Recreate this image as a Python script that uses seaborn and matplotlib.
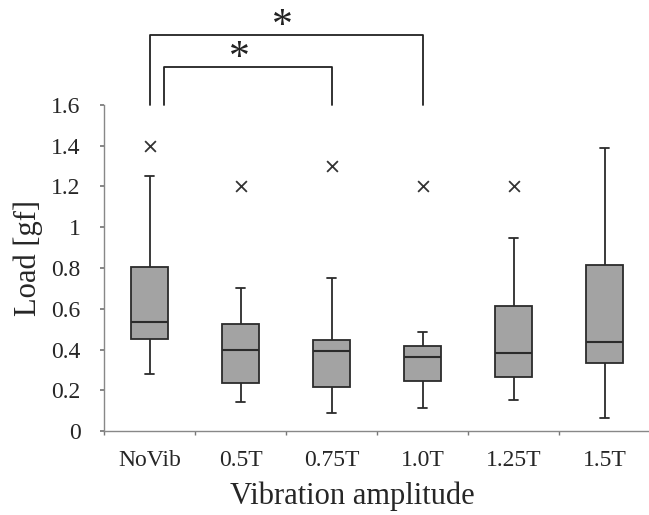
import numpy as np
import pandas as pd
import matplotlib
matplotlib.use("Agg")
import matplotlib.pyplot as plt
import seaborn as sns

categories = ["NoVib", "0.5T", "0.75T", "1.0T", "1.25T", "1.5T"]
whisker_low = [0.28, 0.14, 0.087, 0.111, 0.152, 0.062]
q1_vals = [0.451, 0.237, 0.218, 0.245, 0.267, 0.335]
medians = [0.533, 0.397, 0.393, 0.365, 0.384, 0.437]
q3_vals = [0.803, 0.524, 0.447, 0.417, 0.613, 0.815]
whisker_high = [1.25, 0.70, 0.749, 0.484, 0.949, 1.39]
outlier_cats = ["NoVib", "0.5T", "0.75T", "1.0T", "1.25T"]
outlier_vals = [1.40, 1.20, 1.30, 1.20, 1.20]
y_ticks = [0, 0.2, 0.4, 0.6, 0.8, 1.0, 1.2, 1.4, 1.6]
y_tick_labels = ["0", "0.2", "0.4", "0.6", "0.8", "1", "1.2", "1.4", "1.6"]

rows = []
for i, c in enumerate(categories):
    for v in (whisker_low[i], q1_vals[i], medians[i], q3_vals[i], whisker_high[i]):
        rows.append({"cat": c, "load": v})
df = pd.DataFrame(rows)
out_df = pd.DataFrame({"cat": outlier_cats, "load": outlier_vals})

sns.set_theme(style="white")
plt.rcParams["font.family"] = ["Liberation Serif", "DejaVu Serif"]

fig = plt.figure(figsize=(6.49, 5.15), dpi=100)
ax = fig.add_axes([104 / 649, 84 / 515, 546 / 649, 326 / 515])

line_c = "#2b2b2b"
sns.boxplot(data=df, x="cat", y="load", order=categories, ax=ax,
            whis=np.inf, width=0.4, color="#a3a3a3", linecolor=line_c,
            linewidth=1.3, showfliers=False,
            medianprops=dict(color=line_c, linewidth=1.5),
            capwidths=0.09)
sns.scatterplot(data=out_df, x="cat", y="load", ax=ax, marker="x",
                s=60, color="#333333", linewidth=1.3, zorder=5)

ax.set_xlim(-0.5, 5.5)
ax.set_ylim(0, 1.6)
ax.set_yticks(y_ticks)
ax.set_yticklabels(y_tick_labels, fontsize=17)
ax.set_xticks(range(len(categories)))
ax.set_xticklabels(categories, fontsize=17)
ax.set_xticks(np.arange(-0.5, 6.0, 1.0), minor=True)
ax.tick_params(axis="x", which="major", length=0, pad=14)
ax.tick_params(axis="x", which="minor", length=3, color="#777777", direction="out")
ax.tick_params(axis="y", which="major", length=3, color="#777777", direction="out", pad=14)
ax.yaxis.set_ticks_position("left")
ax.xaxis.set_ticks_position("bottom")

for s in ["top", "right"]:
    ax.spines[s].set_visible(False)
for s in ["left", "bottom"]:
    ax.spines[s].set_color("#888888")
    ax.spines[s].set_linewidth(1.0)

ax.set_xlabel("Vibration amplitude", fontsize=22)
ax.xaxis.set_label_coords(0.455, -0.155)
ax.set_ylabel("Load [gf]", fontsize=22)
ax.yaxis.set_label_coords(-0.112, 0.53)

# significance brackets
bk = dict(color="#222222", linewidth=1.3, clip_on=False)
ax.plot([0, 0, 3, 3], [1.6, 1.944, 1.944, 1.6], **bk)
ax.plot([0.154, 0.154, 2, 2], [1.6, 1.785, 1.785, 1.6], **bk)
ax.text(1.46, 1.985, "*", fontsize=30, ha="center", va="center", color="#222222")
ax.text(0.99, 1.825, "*", fontsize=30, ha="center", va="center", color="#222222")

sns.despine(ax=ax)
fig.savefig("out.png", dpi=100)
